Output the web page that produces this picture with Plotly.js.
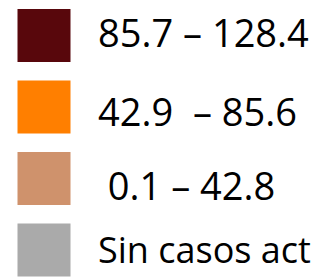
<!DOCTYPE html>
<html>
<head>
<meta charset="utf-8">
<script src="https://cdn.plot.ly/plotly-3.0.1.min.js"></script>
<style>html,body{margin:0;padding:0;background:#fff;}#chart{width:316px;height:279px;}</style>
</head>
<body>
<div id="chart"></div>
<script>
// Legend categories (choropleth classes)
var labels = ["85.7 \u2013 128.4", "42.9\u00a0 \u2013 85.6", "\u00a00.1 \u2013 42.8", "Sin casos act"];
var colors = ["#58070c", "#ff7f00", "#cf926c", "#aaaaaa"];
var idx = [0, 1, 2, 3];

// vertical fine-tuning of each label relative to its swatch (px), and per-label font size
var textShift = [4, -4, -7, 0];
var textSize = [38, 38, 38, 36];

var trace = {
  type: "scatter",
  mode: "markers",
  x: idx.map(function () { return 44; }),
  y: idx,
  marker: { symbol: "square", size: 53, color: colors, line: { width: 0 } },
  hoverinfo: "skip",
  showlegend: false
};

var annotations = labels.map(function (t, i) {
  return {
    x: 96, y: i, xref: "x", yref: "y",
    text: t, showarrow: false, xanchor: "left", yanchor: "middle",
    yshift: textShift[i],
    font: { family: "Open Sans", size: textSize[i], color: "#000" }
  };
});

var layout = {
  width: 316, height: 279,
  margin: { l: 0, r: 0, t: 0, b: 0 },
  paper_bgcolor: "#fff", plot_bgcolor: "#fff",
  xaxis: { range: [0, 316], visible: false, fixedrange: true },
  yaxis: { range: [3.406, -0.4965], visible: false, fixedrange: true },
  annotations: annotations,
  showlegend: false
};

Plotly.newPlot("chart", [trace], layout, { staticPlot: true, displayModeBar: false });
</script>
</body>
</html>
